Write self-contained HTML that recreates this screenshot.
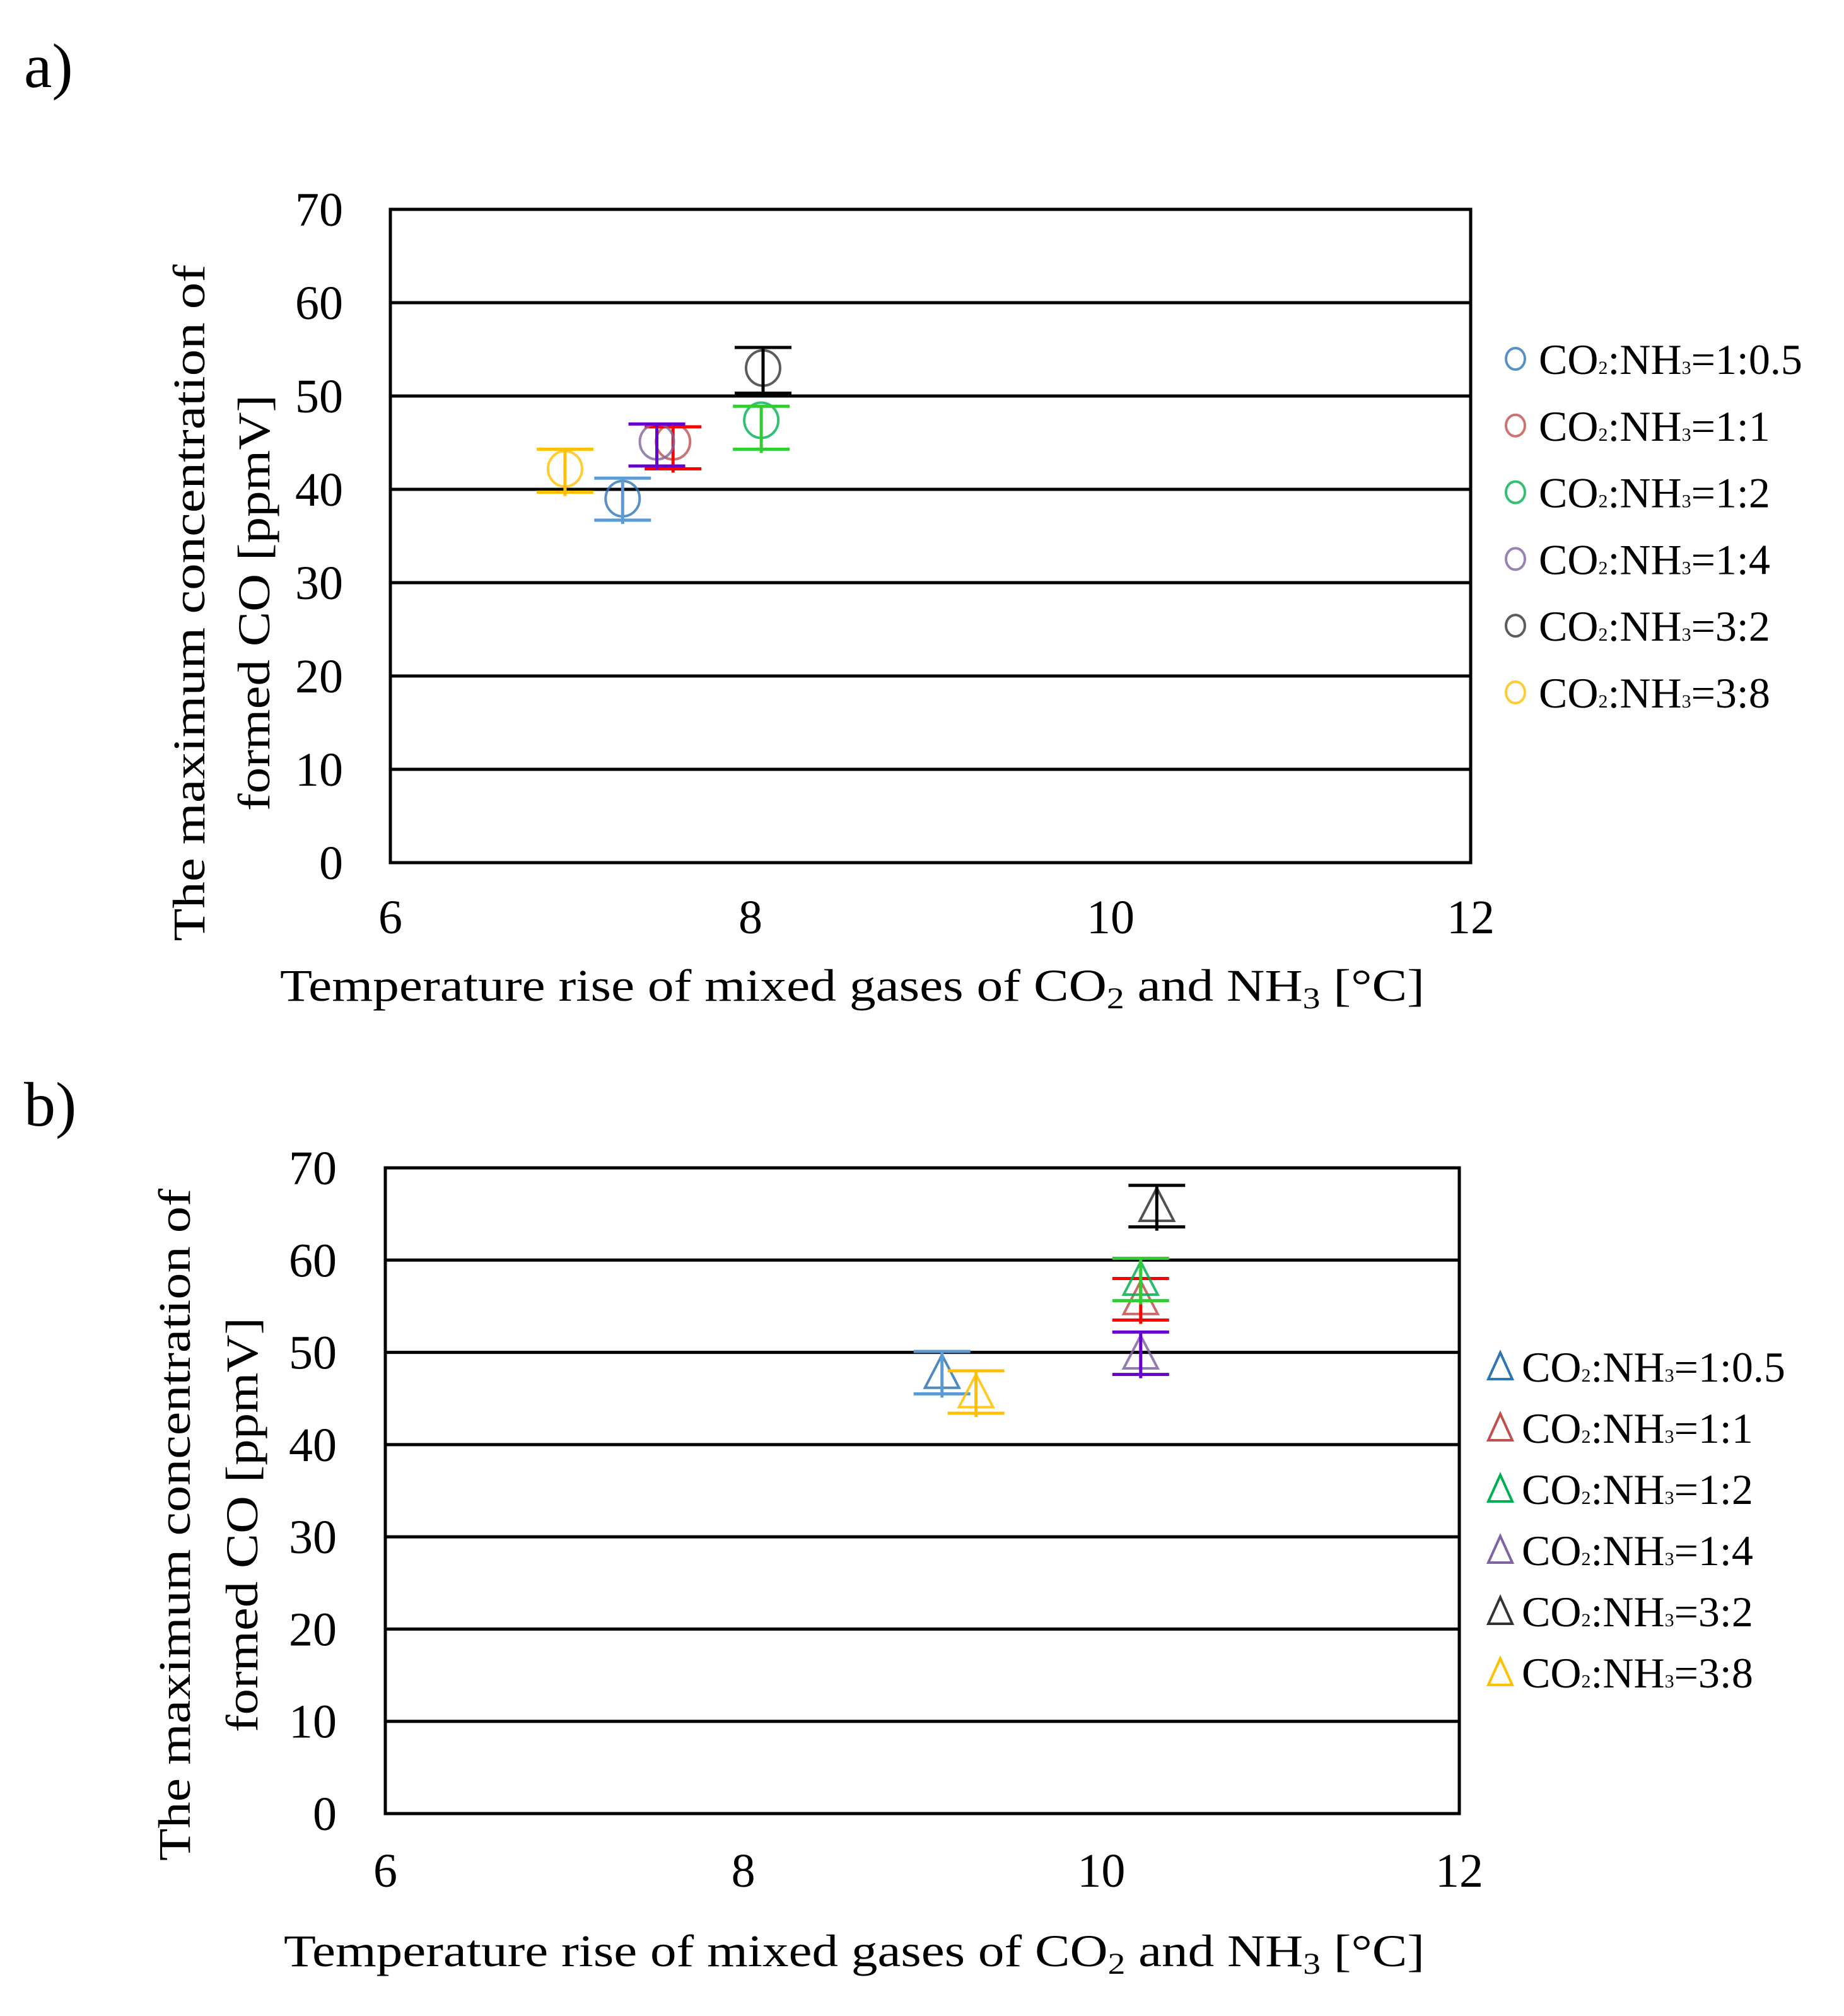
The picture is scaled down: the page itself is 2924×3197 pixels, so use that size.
<!DOCTYPE html>
<html><head><meta charset="utf-8"><style>
html,body{margin:0;padding:0;background:#fff;}
svg{display:block;font-family:"Liberation Serif",serif;}
</style></head><body>
<svg id="root" width="2924" height="3197" viewBox="0 0 2924 3197" xmlns="http://www.w3.org/2000/svg">
<rect width="2924" height="3197" fill="#fff"/>
<text x="38" y="138" font-size="100">a)</text>
<text x="38" y="1785" font-size="100">b)</text>
<g id="chartA"></g>
<g id="chartB"></g>
</svg>
<script>
const seriesNames = ["1:0.5","1:1","1:2","1:4","3:2","3:8"];
const markerColors = ["#2e75b6","#c0504d","#00b050","#8064a2","#333333","#ffc000"];
const barColors = ["#5b9bd5","#ff0000","#33cc33","#6600cc","#000000","#ffc000"];
const xTicks = [6,8,10,12];
const yTicks = [0,10,20,30,40,50,60,70];
// Panel a (circles)
const aX = [7.29,7.57,8.06,7.48,8.07,6.97];
const aY = [39.0,45.1,47.4,45.1,53.0,42.2];
const aHi = [41.2,46.7,48.9,47.0,55.2,44.3];
const aLo = [36.7,42.2,44.3,42.5,50.3,39.7];
// Panel b (triangles)
const bX = [9.11,10.22,10.22,10.22,10.31,9.30];
const bY = [47.8,55.8,57.9,49.9,65.9,45.7];
const bHi = [50.1,58.0,60.2,52.2,68.1,48.0];
const bLo = [45.5,53.5,55.6,47.6,63.6,43.4];

const NS="http://www.w3.org/2000/svg";
function mk(tag,attrs,parent){const e=document.createElementNS(NS,tag);for(const k in attrs)e.setAttribute(k,attrs[k]);parent.appendChild(e);return e;}

function drawChart(g,cfg,xs,ys,his,los,shape){
  const sx=v=>cfg.L+(v-6)/6*(cfg.R-cfg.L);
  const sy=v=>cfg.B-(v/70)*(cfg.B-cfg.T);
  yTicks.forEach(t=>{
    const l=mk('line',{x1:cfg.L,x2:cfg.R,y1:sy(t),y2:sy(t),stroke:'#000','stroke-width':5},g);
    
    
    const tx=mk('text',{x:cfg.yLabX,y:sy(t)+26,'font-size':76,'text-anchor':'end'},g);
    tx.textContent=t;
    
    
  });
  const fr=mk('rect',{x:cfg.L,y:cfg.T,width:cfg.R-cfg.L,height:cfg.B-cfg.T,fill:'none',stroke:'#000','stroke-width':5},g);
  
  
  xTicks.forEach(t=>{
    const tx=mk('text',{x:sx(t),y:cfg.xLabY,'font-size':76,'text-anchor':'middle'},g);
    tx.textContent=t;
    
    
  });
  for(let i=0;i<xs.length;i++){
    const s=mk('g',{},g);
    
    
    const cx=sx(xs[i]),cy=sy(ys[i]);
    if(shape==='circle'){
      mk('ellipse',{cx:cx,cy:cy,rx:27,ry:28,fill:'none',stroke:markerColors[i],'stroke-width':4,opacity:0.8},s);
    } else {
      mk('polygon',{points:`${cx},${cy-28} ${cx-27},${cy+24} ${cx+27},${cy+24}`,fill:'none',stroke:markerColors[i],'stroke-width':4,opacity:0.85},s);
    }
    const bc=barColors[i];
    mk('line',{x1:cx,x2:cx,y1:sy(his[i]),y2:sy(los[i])+6,stroke:bc,'stroke-width':5},s);
    mk('line',{x1:cx-45,x2:cx+45,y1:sy(his[i]),y2:sy(his[i]),stroke:bc,'stroke-width':5},s);
    mk('line',{x1:cx-45,x2:cx+45,y1:sy(los[i]),y2:sy(los[i]),stroke:bc,'stroke-width':5},s);
  }
  for(let i=0;i<seriesNames.length;i++){
    const lg=mk('g',{},g);
    
    
    const y=cfg.legY0+i*cfg.legDy;
    if(shape==='circle') mk('ellipse',{cx:cfg.legMX,cy:y,rx:15,ry:17,fill:'none',stroke:markerColors[i],'stroke-width':4,opacity:0.8},lg);
    else mk('polygon',{points:`${cfg.legMX},${y-22} ${cfg.legMX-19},${y+20} ${cfg.legMX+19},${y+20}`,fill:'none',stroke:markerColors[i],'stroke-width':4},lg);
    const t=mk('text',{x:cfg.legTX,y:y+24,'font-size':68},lg);
    t.innerHTML='CO<tspan font-size="30">2</tspan>:NH<tspan font-size="30">3</tspan>=' + seriesNames[i];
  }
  const xt=mk('text',{x:cfg.xtX,y:cfg.xtY,'font-size':72,textLength:cfg.xtLen,lengthAdjust:'spacingAndGlyphs'},g);
  xt.innerHTML='Temperature rise of mixed gases of CO<tspan font-size="48" dy="12">2</tspan><tspan dy="-12"> and NH</tspan><tspan font-size="48" dy="12">3</tspan><tspan dy="-12"> [°C]</tspan>';
  
  
  const yt1=mk('text',{x:0,y:0,'font-size':72,'text-anchor':'middle',textLength:cfg.y1Len,lengthAdjust:'spacingAndGlyphs',transform:`translate(${cfg.y1X+24},${cfg.yC}) rotate(-90)`},g);
  yt1.textContent='The maximum  concentration of';
  
  
  const yt2=mk('text',{x:0,y:0,'font-size':72,'text-anchor':'middle',textLength:cfg.y2Len,lengthAdjust:'spacingAndGlyphs',transform:`translate(${cfg.y2X+24},${cfg.yC}) rotate(-90)`},g);
  yt2.textContent='formed CO [ppmV]';
  
  
}
drawChart(document.getElementById('chartA'),{L:619,R:2332,T:332,B:1368,yLabX:544,xLabY:1480,
  legMX:2403,legTX:2440,legY0:569,legDy:105.8,xtX:444,xtY:1587,xtLen:1815,
  y1X:300,y2X:403,yC:956,y1Len:1073,y2Len:660},aX,aY,aHi,aLo,'circle');
drawChart(document.getElementById('chartB'),{L:611,R:2314,T:1852,B:2876,yLabX:534,xLabY:2992,
  legMX:2379,legTX:2413,legY0:2167,legDy:97,xtX:450,xtY:3118,xtLen:1809,
  y1X:277,y2X:384,yC:2418,y1Len:1066,y2Len:658},bX,bY,bHi,bLo,'triangle');
</script>
</body></html>
